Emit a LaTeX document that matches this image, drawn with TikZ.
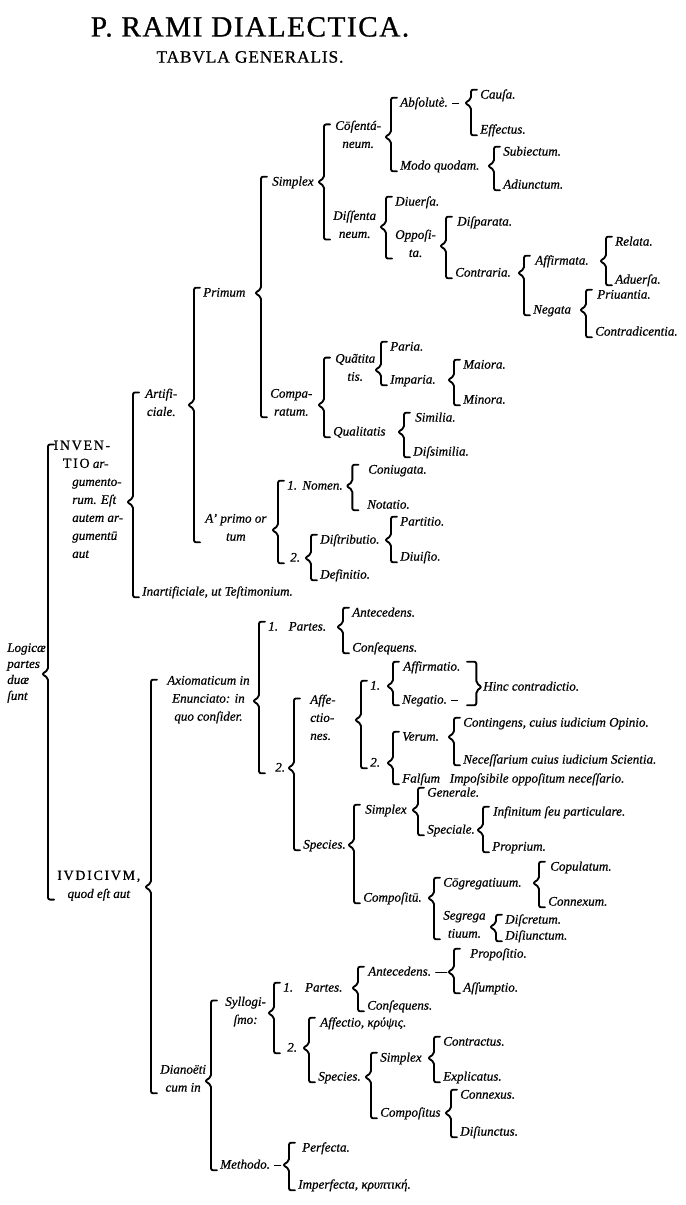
\documentclass[tikz,border=0pt]{standalone}
\usepackage{fontspec}
\setmainfont{Liberation Serif}[ItalicFeatures={FakeBold=0.6}]
\newfontfamily\capsfont[LetterSpace=12,FakeBold=0.6]{Liberation Serif}
\newfontfamily\titlefont[LetterSpace=5,FakeBold=0.8]{Liberation Serif}
\usetikzlibrary{calc}
\newcommand\capt[1]{{\capsfont\upshape\fontsize{10.5}{13.5}\selectfont #1}}
\newcommand\tabbrace[4][6.75pt]{%
  \draw[bracel] let \p1=(#2.east), \p2=(#3.north west), \p3=(#4.south west) in
    ({min(\x2,\x3)-#1+4.5pt},{\y2-3pt}) -- ({min(\x2,\x3)-#1},{\y2-3pt})
    -- ({min(\x2,\x3)-#1},{\y1+3pt}) -- ({min(\x2,\x3)-#1-4.5pt},{\y1})
    -- ({min(\x2,\x3)-#1},{\y1-3pt}) -- ({min(\x2,\x3)-#1},{\y3+3pt})
    -- ({min(\x2,\x3)-#1+4.5pt},{\y3+3pt});}
\tikzset{
  lbl/.style={anchor=west, inner sep=0pt, font=\fontsize{9.8}{13.5}\selectfont\itshape,
    execute at begin node=\strut, execute at end node=\strut},
  bracel/.style={line width=1.4pt, rounded corners=1.5pt, line cap=round, line join=round},
}
\begin{document}
\begin{tikzpicture}[x=0.75pt,y=-0.75pt]
\useasboundingbox (0,0) rectangle (685,1205);
% titles
\node[inner sep=0pt, font=\titlefont\fontsize{22}{24}\selectfont] (title) at (250,27) {P. RAMI DIALECTICA.};
\node[inner sep=0pt, font=\titlefont\fontsize{13}{15}\selectfont] (subtitle) at (250,57) {TABVLA GENERALIS.};

% root
\node[lbl, align=left, font=\fontsize{9.8}{12}\selectfont\itshape] (root) at (7,674) {Logicæ\\partes\\duæ\\ſunt};
\node[lbl, align=left] (inv) at (72,502) {\hspace*{-14pt}\capt{INVEN-}\\\hspace*{-7pt}\capt{TIO} ar-\\gumento-\\rum. Eſt\\autem ar-\\gumentū\\aut};
\node[lbl, align=center] (iud) at (57,887) {\capt{IVDICIVM,}\\quod eſt aut};

% INVENTIO
\node[lbl, align=center] (art) at (145,405) {Artifi-\\ciale.};
\node[lbl] (inart) at (142,592) {Inartificiale, ut Teſtimonium.};
\node[lbl] (prim) at (203,293) {Primum};
\node[lbl, align=center] (aprimo) at (205,530) {A’ primo or\\tum};
\node[lbl] (simp) at (272,182) {Simplex};
\node[lbl, align=center] (comp) at (270,405) {Compa-\\ratum.};
\node[lbl, align=center] (cons) at (335,137) {Cōſentá-\\neum.};
\node[lbl, align=center] (diss) at (333,227) {Diſſenta\\neum.};
\node[lbl] (abs) at (400,103) {Abſolutè. –};
\node[lbl] (modo) at (400,166) {Modo quodam.};
\node[lbl] (causa) at (480,95) {Cauſa.};
\node[lbl] (eff) at (480,130) {Effectus.};
\node[lbl] (subi) at (503,152) {Subiectum.};
\node[lbl] (adi) at (503,185) {Adiunctum.};
\node[lbl] (diu) at (395,202) {Diuerſa.};
\node[lbl, align=center] (opp) at (395,246) {Oppoſi-\\ta.};
\node[lbl] (disp) at (457,222) {Diſparata.};
\node[lbl] (contr) at (455,273) {Contraria.};
\node[lbl] (affa) at (535,261) {Affirmata.};
\node[lbl] (nega) at (533,310) {Negata};
\node[lbl] (rel) at (615,242) {Relata.};
\node[lbl] (adu) at (615,280) {Aduerſa.};
\node[lbl] (priu) at (597,295) {Priuantia.};
\node[lbl] (contrad) at (595,332) {Contradicentia.};
\node[lbl, align=center] (quant) at (335,370) {Quãtita\\tis.};
\node[lbl] (qual) at (333,432) {Qualitatis};
\node[lbl] (par) at (390,347) {Paria.};
\node[lbl] (impar) at (390,380) {Imparia.};
\node[lbl] (mai) at (463,365) {Maiora.};
\node[lbl] (mino) at (463,400) {Minora.};
\node[lbl] (sim) at (415,418) {Similia.};
\node[lbl] (dissim) at (413,452) {Diſsimilia.};
\node[lbl] (nomen) at (287,486) {1.\hspace{4pt}Nomen.};
\node[lbl] (two) at (290,558) {2.};
\node[lbl] (coni) at (368,470) {Coniugata.};
\node[lbl] (notat) at (367,505) {Notatio.};
\node[lbl] (distr) at (320,540) {Diſtributio.};
\node[lbl] (defi) at (320,575) {Definitio.};
\node[lbl] (parti) at (400,522) {Partitio.};
\node[lbl] (diui) at (400,557) {Diuiſio.};

% IVDICIVM
\node[lbl, align=center] (axi) at (167,701) {Axiomaticum in\\Enunciato: in\\quo conſider.};
\node[lbl, align=center] (dian) at (160,1081) {Dianoëti\\cum in};
\node[lbl] (ap1) at (268,627) {1.\hspace{8pt}Partes.};
\node[lbl] (ap2) at (275,768) {2.};
\node[lbl] (ante) at (352,613) {Antecedens.};
\node[lbl] (conseq) at (352,648) {Conſequens.};
\node[lbl, align=left] (affe) at (310,720) {Affe-\\ctio-\\nes.};
\node[lbl] (spec1) at (303,845) {Species.};
\node[lbl] (a1) at (370,686) {1.};
\node[lbl] (a2) at (370,763) {2.};
\node[lbl] (affirm) at (403,667) {Affirmatio.};
\node[lbl] (negat) at (402,700) {Negatio. –};
\node[lbl] (hinc) at (483,687) {Hinc contradictio.};
\node[lbl] (verum) at (402,737) {Verum.};
\node[lbl] (falsum) at (402,779) {Falſum\enspace\ Impoſsibile oppoſitum neceſſario.};
\node[lbl] (conting) at (463,723) {Contingens, cuius iudicium Opinio.};
\node[lbl] (necess) at (463,760) {Neceſſarium cuius iudicium Scientia.};
\node[lbl] (jsimp) at (365,810) {Simplex};
\node[lbl] (jcomp) at (363,898) {Compoſitū.};
\node[lbl] (gen) at (427,793) {Generale.};
\node[lbl] (spec) at (427,830) {Speciale.};
\node[lbl] (infin) at (493,812) {Infinitum ſeu particulare.};
\node[lbl] (propr) at (492,847) {Proprium.};
\node[lbl] (cong) at (443,883) {Cōgregatiuum.};
\node[lbl, align=center] (segr) at (443,927) {Segrega\\tiuum.};
\node[lbl] (copu) at (550,867) {Copulatum.};
\node[lbl] (conn) at (548,902) {Connexum.};
\node[lbl] (discr) at (505,920) {Diſcretum.};
\node[lbl] (disi) at (505,936) {Diſiunctum.};
\node[lbl, align=center] (syll) at (225,1013) {Syllogi-\\ſmo:};
\node[lbl] (meth) at (220,1165) {Methodo. –};
\node[lbl] (sp1) at (283,988) {1.\hspace{9pt}Partes.};
\node[lbl] (sp2) at (287,1048) {2.};
\node[lbl] (sante) at (368,972) {Antecedens. —};
\node[lbl] (sconseq) at (367,1006) {Conſequens.};
\node[lbl] (propos) at (470,954) {Propoſitio.};
\node[lbl] (assum) at (463,988) {Aſſumptio.};
\node[lbl] (saff) at (320,1023) {Affectio, κρύψις.};
\node[lbl] (sspec) at (318,1077) {Species.};
\node[lbl] (ssimp) at (380,1058) {Simplex};
\node[lbl] (scomp) at (380,1113) {Compoſitus};
\node[lbl] (contra) at (443,1042) {Contractus.};
\node[lbl] (expl) at (443,1077) {Explicatus.};
\node[lbl] (connex) at (460,1095) {Connexus.};
\node[lbl] (disiu) at (460,1132) {Diſiunctus.};
\node[lbl] (perf) at (302,1148) {Perfecta.};
\node[lbl] (imperf) at (298,1185) {Imperfecta, κρυπτική.};

% braces
\tabbrace{root}{inv}{iud}
\tabbrace{inv}{art}{inart}
\tabbrace{art}{prim}{aprimo}
\tabbrace{prim}{simp}{comp}
\tabbrace{simp}{cons}{diss}
\tabbrace{cons}{abs}{modo}
\tabbrace{abs}{causa}{eff}
\tabbrace{modo}{subi}{adi}
\tabbrace{diss}{diu}{opp}
\tabbrace{opp}{disp}{contr}
\tabbrace{contr}{affa}{nega}
\tabbrace{affa}{rel}{adu}
\tabbrace{nega}{priu}{contrad}
\tabbrace{comp}{quant}{qual}
\tabbrace{quant}{par}{impar}
\tabbrace{impar}{mai}{mino}
\tabbrace{qual}{sim}{dissim}
\tabbrace{aprimo}{nomen}{two}
\tabbrace[11pt]{nomen}{coni}{notat}
\tabbrace{two}{distr}{defi}
\tabbrace{distr}{parti}{diui}
\tabbrace{iud}{axi}{dian}
\tabbrace{axi}{ap1}{ap2}
\tabbrace{ap1}{ante}{conseq}
\tabbrace{ap2}{affe}{spec1}
\tabbrace{affe}{a1}{a2}
\tabbrace{a1}{affirm}{negat}
\tabbrace{a2}{verum}{falsum}
\tabbrace{verum}{conting}{necess}
\tabbrace{spec1}{jsimp}{jcomp}
\tabbrace{jsimp}{gen}{spec}
\tabbrace{spec}{infin}{propr}
\tabbrace{jcomp}{cong}{segr}
\tabbrace{cong}{copu}{conn}
\tabbrace{segr}{discr}{disi}
\tabbrace{dian}{syll}{meth}
\tabbrace{syll}{sp1}{sp2}
\tabbrace{sp1}{sante}{sconseq}
\tabbrace{sante}{propos}{assum}
\tabbrace{sp2}{saff}{sspec}
\tabbrace{sspec}{ssimp}{scomp}
\tabbrace{ssimp}{contra}{expl}
\tabbrace{scomp}{connex}{disiu}
\tabbrace{meth}{perf}{imperf}
% closing brace: Hinc contradictio
\draw[bracel] let \p1=(hinc.west), \p2=(affirm.north), \p3=(negat.south) in
  ({\x1-12pt},{\y2-3pt}) -- ({\x1-5pt},{\y2-3pt}) -- ({\x1-5pt},{\y1+3pt})
  -- ({\x1-1pt},{\y1}) -- ({\x1-5pt},{\y1-3pt}) -- ({\x1-5pt},{\y3+3pt})
  -- ({\x1-12pt},{\y3+3pt});
\end{tikzpicture}
\end{document}
